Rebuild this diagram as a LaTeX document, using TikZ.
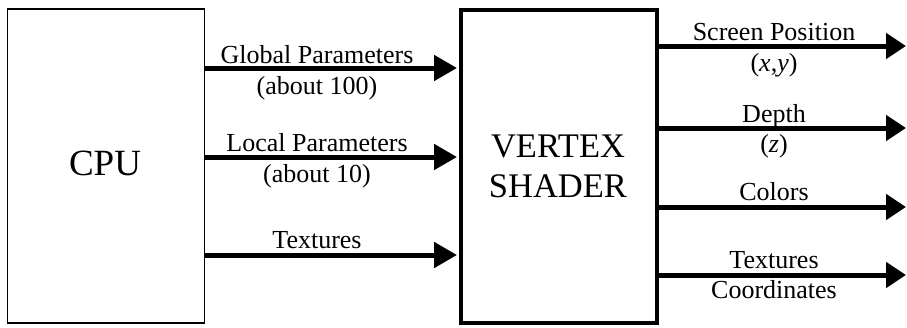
\documentclass[tikz,border=0pt]{standalone}
\usepackage{fontspec}
\setmainfont{Liberation Serif}
\usetikzlibrary{arrows.meta}
\begin{document}
\begin{tikzpicture}[x=1pt,y=-1pt,
  lbl/.style={anchor=base,inner sep=0pt,font=\fontsize{26}{28}\selectfont},
  inarr/.style={line width=5pt,-{Triangle[length=23pt,width=25pt]},shorten >=2pt},
  outarr/.style={line width=5pt,-{Triangle[length=20pt,width=25pt]}}]
\useasboundingbox (0,0) rectangle (907,327);
\node[draw,line width=1.2pt,minimum width=197pt,minimum height=314pt,inner sep=0pt] (cpu) at (105.6,166) {};
\node[draw,line width=4pt,minimum width=196pt,minimum height=313pt,inner sep=0pt] (vs) at (559,166.5) {};
\node[anchor=base,inner sep=0pt,font=\fontsize{37}{40}\selectfont] (cput) at (105,175) {CPU};
\node[anchor=base,inner sep=0pt,font=\fontsize{34.5}{38}\selectfont] (vt1) at (558,157) {VERTEX};
\node[anchor=base,inner sep=0pt,font=\fontsize{34.5}{38}\selectfont] (vt2) at (558,197) {SHADER};
% inputs
\coordinate (i1) at (0,68);
\coordinate (i2) at (0,157);
\coordinate (i3) at (0,255);
\draw[inarr] (cpu.east |- i1) -- (vs.west |- i1);
\draw[inarr] (cpu.east |- i2) -- (vs.west |- i2);
\draw[inarr] (cpu.east |- i3) -- (vs.west |- i3);
\node[lbl] (g1) at (317,63) {Global Parameters};
\node[lbl] (g2) at (317,94) {(about 100)};
\node[lbl] (l1) at (317,151) {Local Parameters};
\node[lbl] (l2) at (317,182) {(about 10)};
\node[lbl] (t1) at (317,248) {Textures};
% outputs
\coordinate (o1) at (906,46);
\coordinate (o2) at (906,128);
\coordinate (o3) at (906,207);
\coordinate (o4) at (906,275);
\draw[outarr] (vs.east |- o1) -- (o1);
\draw[outarr] (vs.east |- o2) -- (o2);
\draw[outarr] (vs.east |- o3) -- (o3);
\draw[outarr] (vs.east |- o4) -- (o4);
\node[lbl] (s1) at (774,40) {Screen Position};
\node[lbl] (s2) at (774,71) {(\textit{x},\textit{y})};
\node[lbl] (d1) at (774,122) {Depth};
\node[lbl] (d2) at (774,152) {(\textit{z})};
\node[lbl] (c1) at (774,200) {Colors};
\node[lbl] (x1) at (774,268) {Textures};
\node[lbl] (x2) at (774,298) {Coordinates};
\end{tikzpicture}
\end{document}
